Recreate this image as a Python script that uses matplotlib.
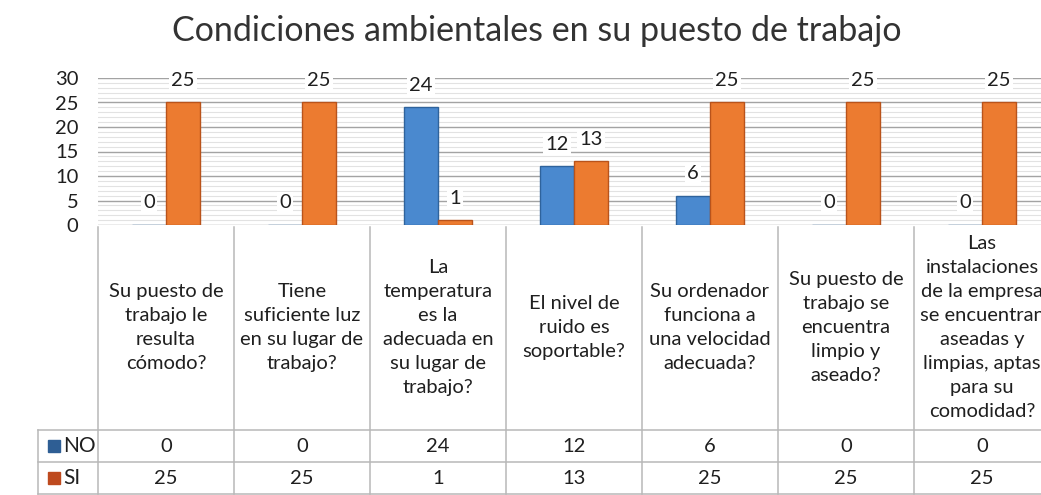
import matplotlib
matplotlib.use("Agg")
import matplotlib.pyplot as plt
from matplotlib.ticker import MultipleLocator
import numpy as np

CATEGORIAS = [
    "Su puesto de\ntrabajo le\nresulta\ncómodo?",
    "Tiene\nsuficiente luz\nen su lugar de\ntrabajo?",
    "La\ntemperatura\nes la\nadecuada en\nsu lugar de\ntrabajo?",
    "El nivel de\nruido es\nsoportable?",
    "Su ordenador\nfunciona a\nuna velocidad\nadecuada?",
    "Su puesto de\ntrabajo se\nencuentra\nlimpio y\naseado?",
    "Las\ninstalaciones\nde la empresa\nse encuentran\naseadas y\nlimpias, aptas\npara su\ncomodidad?",
]
VALORES_NO = [0, 0, 24, 12, 6, 0, 0]
VALORES_SI = [25, 25, 1, 13, 25, 25, 25]
SERIES = ["NO", "SI"]
Y_MAX = 30
TITULO = "Condiciones ambientales en su puesto de trabajo"

COLOR_NO = "#4A89CF"
EDGE_NO = "#2F639C"
COLOR_SI = "#EC7B30"
EDGE_SI = "#B9531B"
LEG_NO = "#2E5E94"
LEG_SI = "#BE4A1E"
TEXTO = "#1f1f1f"
LINEA_TABLA = "#b8b8b8"

plt.rcParams.update(
    {
        "font.family": ["Lato", "DejaVu Sans"],
        "font.size": 14,
    }
)

# geometría en píxeles de la imagen original
W, H = 1041, 495
X0, COL = 98, 136          # borde izquierdo del área de gráfico y ancho de columna
Y_CERO, Y_TOPE = 225, 78   # píxel de y=0 y de y=30
Y_FILA_NO, Y_FILA_SI, Y_FIN = 430, 462, 494
X_LEYENDA = 38


def fx(px):
    return px / W


def fy(px):
    return 1 - px / H


def dx(px):
    # píxel horizontal -> coordenada de categoría
    return -0.5 + (px - X0) / COL


def main():
    n = len(CATEGORIAS)
    x = np.arange(n)
    ancho = 0.25
    derecha = X0 + n * COL

    fig = plt.figure(figsize=(W / 100, H / 100), dpi=100)
    fig.patch.set_facecolor("white")

    # --- barras ---
    ax = fig.add_axes([fx(X0), fy(Y_CERO), fx(derecha) - fx(X0), fy(Y_TOPE) - fy(Y_CERO)])
    ax.bar(x - ancho / 2, VALORES_NO, ancho, color=COLOR_NO, edgecolor=EDGE_NO,
           linewidth=1.0, zorder=3, label=SERIES[0])
    ax.bar(x + ancho / 2, VALORES_SI, ancho, color=COLOR_SI, edgecolor=EDGE_SI,
           linewidth=1.0, zorder=3, label=SERIES[1])

    for xs, vals in ((x - ancho / 2, VALORES_NO), (x + ancho / 2, VALORES_SI)):
        for xi, v in zip(xs, vals):
            ax.annotate(str(v), (xi, v), xytext=(0, 22), textcoords="offset pixels",
                        ha="center", va="center", fontsize=14.5, color=TEXTO, zorder=4,
                        bbox=dict(boxstyle="square,pad=0.1", fc="white", ec="none"))

    ax.set_xlim(-0.5, n - 0.5)
    ax.set_ylim(0, Y_MAX)
    ax.yaxis.set_major_locator(MultipleLocator(5))
    ax.yaxis.set_minor_locator(MultipleLocator(1))
    ax.grid(which="major", axis="y", color="#a3a3a3", linewidth=1.0, zorder=1)
    ax.grid(which="minor", axis="y", color="#e2e2e2", linewidth=0.8, zorder=0)
    ax.set_axisbelow(True)
    ax.set_xticks([])
    ax.tick_params(axis="y", which="both", length=0, pad=14, labelsize=14.5, labelcolor=TEXTO)
    for s in ax.spines.values():
        s.set_visible(False)

    # --- tabla de datos ---
    tax = fig.add_axes([fx(X_LEYENDA), fy(Y_FIN), fx(derecha) - fx(X_LEYENDA), fy(Y_CERO) - fy(Y_FIN)])
    tax.set_xlim(dx(X_LEYENDA), n - 0.5)
    tax.set_ylim(Y_FIN, Y_CERO)
    tax.axis("off")

    lw = 1.1
    for xb in np.arange(-0.5, n, 1.0):
        tax.plot([xb, xb], [Y_CERO + 2, Y_FIN], color=LINEA_TABLA, lw=lw, clip_on=False)
    tax.plot([dx(X_LEYENDA)] * 2, [Y_FILA_NO, Y_FIN], color=LINEA_TABLA, lw=lw, clip_on=False)
    for yb in (Y_FILA_NO, Y_FILA_SI, Y_FIN):
        tax.plot([dx(X_LEYENDA), n - 0.5], [yb, yb], color=LINEA_TABLA, lw=lw, clip_on=False)

    y_cab = (Y_CERO + Y_FILA_NO) / 2
    y_no = (Y_FILA_NO + Y_FILA_SI) / 2
    y_si = (Y_FILA_SI + Y_FIN) / 2
    for i, cat in enumerate(CATEGORIAS):
        tax.text(i, y_cab, cat, ha="center", va="center", fontsize=14.5,
                 linespacing=1.5, color=TEXTO)
        tax.text(i, y_no, str(VALORES_NO[i]), ha="center", va="center", fontsize=14.5, color=TEXTO)
        tax.text(i, y_si, str(VALORES_SI[i]), ha="center", va="center", fontsize=14.5, color=TEXTO)

    for yy, nombre, col in ((y_no, SERIES[0], LEG_NO), (y_si, SERIES[1], LEG_SI)):
        tax.plot(dx(54), yy, marker="s", ms=9, color=col, clip_on=False)
        tax.text(dx(63), yy, nombre, ha="left", va="center", fontsize=15, color=TEXTO)

    fig.text(fx(537), fy(31), TITULO, ha="center", va="center", fontsize=24.5, color="#333333")

    fig.savefig("out.png", dpi=100, facecolor="white")
    plt.close(fig)


if __name__ == "__main__":
    main()
